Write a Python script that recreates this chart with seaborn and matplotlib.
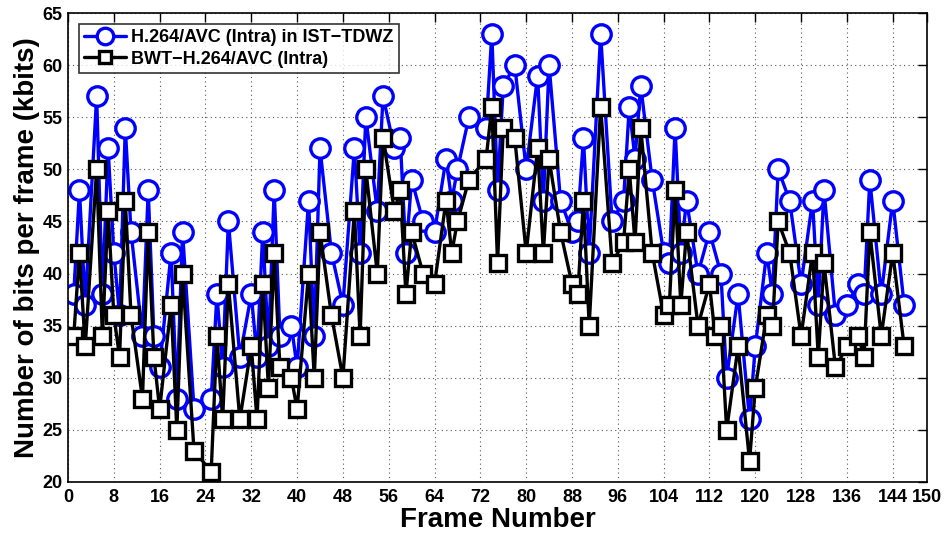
import matplotlib
matplotlib.use("Agg")
import matplotlib.pyplot as plt
import seaborn as sns
import pandas as pd

frames_a = [1, 2, 3, 5, 6, 7, 8, 9, 10, 11, 13, 14, 15, 16, 18, 19, 20, 22, 25, 26,
            27, 28, 30, 32, 33, 34, 35, 36, 37, 39, 40, 42, 43, 44, 46, 48, 50, 51, 52, 54,
            55, 57, 58, 59, 60, 62, 64, 66, 67, 68, 70, 73, 74, 75, 76, 78, 80, 82, 83, 84,
            86, 88, 89, 90, 91, 93, 95, 97, 98, 99, 100, 102, 104, 105, 106, 107, 108, 110, 112,
            114, 115, 117, 119, 120, 122, 123, 124, 126, 128, 130, 131, 132, 134, 136, 138, 139, 140, 142, 144,
            146]

h264_ist_tdwz = [38, 48, 37, 57, 38, 52, 42, 36, 54, 44, 34, 48, 34, 31, 42, 28, 44, 27, 28, 38,
                 31, 45, 32, 38, 32, 44, 33, 48, 34, 35, 31, 47, 34, 52, 42, 37, 52, 42, 55, 46,
                 57, 52, 53, 42, 49, 45, 44, 51, 47, 50, 55, 54, 63, 48, 58, 60, 50, 59, 47, 60,
                 47, 44, 45, 53, 42, 63, 45, 47, 56, 51, 58, 49, 42, 41, 54, 42, 47, 40, 44,
                 40, 30, 38, 26, 33, 42, 38, 50, 47, 39, 47, 37, 48, 36, 37, 39, 38, 49, 38, 47,
                 37]

frames_b = [1, 2, 3, 5, 6, 7, 8, 9, 10, 11, 13, 14, 15, 16, 18, 19, 20, 22, 25, 26,
            27, 28, 30, 32, 33, 34, 35, 36, 37, 39, 40, 42, 43, 44, 46, 48, 50, 51, 52, 54,
            55, 57, 58, 59, 60, 62, 64, 66, 67, 68, 70, 73, 74, 75, 76, 78, 80, 82, 83, 84,
            86, 88, 89, 90, 91, 93, 95, 97, 98, 99, 100, 102, 104, 105, 106, 107, 108, 110, 112, 113,
            114, 115, 117, 119, 120, 122, 123, 124, 126, 128, 130, 131, 132, 134, 136, 138, 139, 140, 142, 144,
            146]

bwt_h264 = [34, 42, 33, 50, 34, 46, 36, 32, 47, 36, 28, 44, 32, 27, 37, 25, 40, 23, 21, 34,
            26, 39, 26, 33, 26, 39, 29, 42, 31, 30, 27, 40, 30, 44, 36, 30, 46, 34, 50, 40,
            53, 46, 48, 38, 44, 40, 39, 47, 42, 45, 49, 51, 56, 41, 54, 53, 42, 52, 42, 51,
            44, 39, 38, 47, 35, 56, 41, 43, 50, 43, 54, 42, 36, 37, 48, 37, 44, 35, 39, 34,
            35, 25, 33, 22, 29, 36, 35, 45, 42, 34, 42, 32, 41, 31, 33, 34, 32, 44, 34, 42,
            33]

x_ticks = [0, 8, 16, 24, 32, 40, 48, 56, 64, 72, 80, 88, 96, 104, 112, 120, 128, 136, 144, 150]
y_ticks = [20, 25, 30, 35, 40, 45, 50, 55, 60, 65]

label_a = "H.264/AVC (Intra) in IST\u2212TDWZ"
label_b = "BWT\u2212H.264/AVC (Intra)"

sns.set_style("white")
plt.rcParams['font.family'] = ['Liberation Sans', 'DejaVu Sans']
plt.rcParams['font.weight'] = 'bold'
for k in ['text.color', 'axes.labelcolor', 'xtick.color', 'ytick.color']:
    plt.rcParams[k] = 'black'

df_a = pd.DataFrame({"frame": frames_a, "kbits": h264_ist_tdwz})
df_b = pd.DataFrame({"frame": frames_b, "kbits": bwt_h264})

fig = plt.figure(figsize=(9.46, 5.35), dpi=100)
ax = fig.add_axes([0.0719, 0.0991, 0.9081, 0.8766])

sns.lineplot(data=df_a, x="frame", y="kbits", ax=ax, color="#0000ff", linewidth=2.4,
             marker="o", markersize=14, markerfacecolor="white", markeredgecolor="#0000ff",
             markeredgewidth=2.4, label=label_a, sort=False, estimator=None)
sns.lineplot(data=df_b, x="frame", y="kbits", ax=ax, color="black", linewidth=2.4,
             marker="s", markersize=11, markerfacecolor="white", markeredgecolor="black",
             markeredgewidth=2.4, label=label_b, sort=False, estimator=None)

ax.set_xlim(0, 150)
ax.set_ylim(20, 65)
ax.set_xticks(x_ticks)
ax.set_yticks(y_ticks)
ax.set_xticklabels([str(t) for t in x_ticks], fontsize=13, fontweight='bold')
ax.set_yticklabels([str(t) for t in y_ticks], fontsize=13, fontweight='bold')
ax.tick_params(direction='in', top=True, right=True, length=6.5, width=1, pad=4)
ax.tick_params(axis='x', pad=5)
ax.grid(True, linestyle=(0, (1, 3)), color='#555555', linewidth=0.8)
for s in ax.spines.values():
    s.set_linewidth(1.2)
    s.set_color('black')

ax.set_xlabel("Frame Number", fontsize=20, fontweight='bold', labelpad=1)
ax.set_ylabel("Number of bits per frame (kbits)", fontsize=20, fontweight='bold', labelpad=2)

leg = ax.legend(loc='upper left', bbox_to_anchor=(0.0, 1.0), fontsize=13, frameon=True,
                fancybox=False, edgecolor='black', handlelength=2.3, borderpad=0.3,
                labelspacing=0.25, handletextpad=0.3, borderaxespad=0.6, markerscale=0.85)
leg.get_frame().set_linewidth(1.2)
for t in leg.get_texts():
    t.set_fontweight('bold')

fig.savefig("out.png", dpi=100)
